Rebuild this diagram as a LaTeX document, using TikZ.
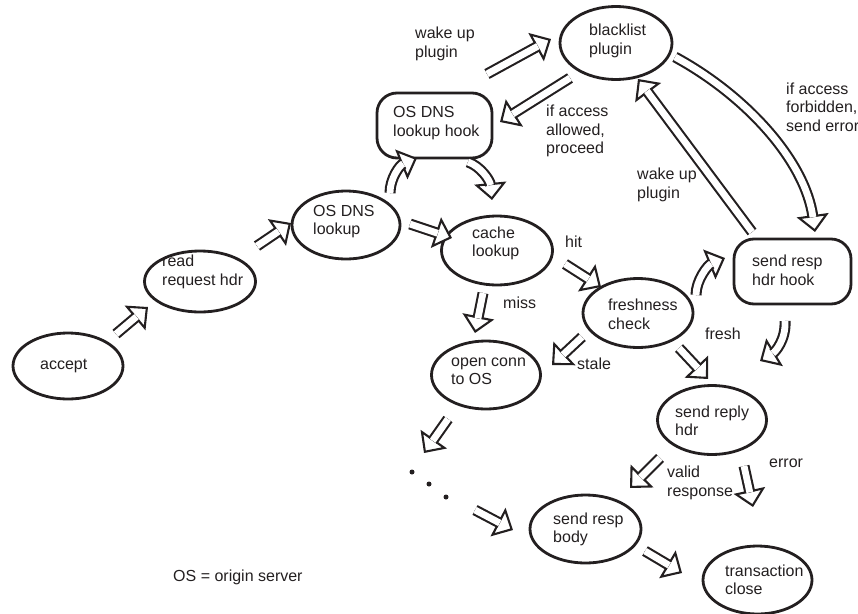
\documentclass[tikz,border=0pt]{standalone}
\usepackage{fontspec}
\setmainfont{Liberation Sans}
\usetikzlibrary{shapes.geometric,arrows.meta}
\definecolor{ink}{HTML}{231F20}
\tikzset{
  state/.style={ellipse, draw=ink, line width=2.8pt, inner sep=0pt},
  hookbox/.style={rectangle, rounded corners=20pt, draw=ink, line width=2.8pt, inner sep=0pt,
    minimum width=115pt, minimum height=65pt},
  txt/.style={align=left, inner sep=0pt, text=ink, font=\fontsize{16}{18.5}\selectfont, anchor=west},
  headtip/.style={draw=ink, line width=2.1pt, -{Triangle[length=17pt,width=32pt,fill=white]}},
  shaft/.style={draw=ink, line width=2.1pt, double, double distance=6.8pt, shorten >=15pt},
  dot/.style={circle, fill=ink, inner sep=0pt, minimum size=5pt},
}
% hollow double-shafted arrow: head first, then the shaft on top of its base
\newcommand\fatarrow[1]{\draw[headtip] #1; \draw[shaft] #1;}
\begin{document}
\begin{tikzpicture}[x=1pt,y=-1pt]
\useasboundingbox (0,0) rectangle (858,613);

% states
\node[state, minimum width=110pt, minimum height=66pt] (accept) at (68,366) {};
\node[state, minimum width=111pt, minimum height=61pt] (read) at (200,281.5) {};
\node[state, minimum width=108pt, minimum height=68pt] (lookup) at (346,225) {};
\node[state, minimum width=111pt, minimum height=69pt] (cache) at (497,250.5) {};
\node[state, minimum width=109pt, minimum height=68pt] (openconn) at (486,375) {};
\node[state, minimum width=110pt, minimum height=69pt] (fresh) at (638,313) {};
\node[state, minimum width=109pt, minimum height=69pt] (reply) at (712,420) {};
\node[state, minimum width=111pt, minimum height=68pt] (body) at (585.5,529) {};
\node[state, minimum width=109pt, minimum height=68pt] (close) at (757.5,580) {};
\node[state, minimum width=112pt, minimum height=73pt] (blacklist) at (616,43) {};
\node[hookbox] (dnshook) at (434.5,125.5) {};
\node[hookbox, minimum width=117pt] (resphook) at (792.5,271.5) {};

% state texts
\node[txt] (taccept) at (40,366) {accept};
\node[txt] (tread) at (162,272) {read\\request hdr};
\node[txt] (tlookup) at (313,221.5) {OS DNS\\lookup};
\node[txt] (tcache) at (472,243.5) {cache\\lookup};
\node[txt] (topen) at (451,371.5) {open conn\\to OS};
\node[txt] (tfresh) at (608,314.5) {freshness\\check};
\node[txt] (treply) at (675,421) {send reply\\hdr};
\node[txt] (tbody) at (553,529.5) {send resp\\body};
\node[txt] (tclose) at (725,580) {transaction\\close};
\node[txt] (tblack) at (589,41) {blacklist\\plugin};
\node[txt] (tdnshook) at (393,123) {OS DNS\\lookup hook};
\node[txt] (tresphook) at (752,270.5) {send resp\\hdr hook};

% edge labels
\node[txt] (lwake1) at (415,44) {wake up\\plugin};
\node[txt] (lallow) at (546,131) {if access\\allowed,\\proceed};
\node[txt] (lforbid) at (786,107) {if access\\forbidden,\\send error};
\node[txt] (lwake2) at (637,185) {wake up\\plugin};
\node[txt] (lhit) at (565,242) {hit};
\node[txt] (lmiss) at (503,303) {miss};
\node[txt] (lstale) at (577,364) {stale};
\node[txt] (lfresh) at (705,334) {fresh};
\node[txt] (lvalid) at (667,483) {valid\\response};
\node[txt] (lerror) at (769,463) {error};
\node[txt] (legend) at (173,577) {OS = origin server};

% the elided part of the miss path
\node[dot] (d1) at (412,472) {};
\node[dot] (d2) at (429,484) {};
\node[dot] (d3) at (446,497) {};

% arrow end points
\coordinate (a1s) at (116,334);  \coordinate (a1e) at (148,307);
\coordinate (a2s) at (257,246);  \coordinate (a2e) at (291,223);
\coordinate (a3s) at (390,193);  \coordinate (a3e) at (417,158);
\coordinate (a4s) at (468,162);  \coordinate (a4e) at (492,200);
\coordinate (a5s) at (410,224);  \coordinate (a5e) at (452,238);
\coordinate (a6s) at (487,74);   \coordinate (a6e) at (551,39);
\coordinate (a7s) at (570,78);   \coordinate (a7e) at (500,122);
\coordinate (a8s) at (565,264);  \coordinate (a8e) at (601,287);
\coordinate (a9s) at (483,293);  \coordinate (a9e) at (475,333);
\coordinate (a10s) at (582,337); \coordinate (a10e) at (552,365);
\coordinate (a11s) at (696,295); \coordinate (a11e) at (725,258);
\coordinate (a12s) at (752,232); \coordinate (a12e) at (638,79);
\coordinate (a13s) at (675,57);  \coordinate (a13e) at (815,232);
\coordinate (a14s) at (785,321); \coordinate (a14e) at (760,361);
\coordinate (a15s) at (679,348); \coordinate (a15e) at (708,379);
\coordinate (a16s) at (448,419); \coordinate (a16e) at (424,453);
\coordinate (a17s) at (475,510); \coordinate (a17e) at (513,530);
\coordinate (a18s) at (660,458); \coordinate (a18e) at (630,488);
\coordinate (a19s) at (744,466); \coordinate (a19e) at (753,507);
\coordinate (a20s) at (645,551); \coordinate (a20e) at (682,573);

% transitions
\fatarrow{(a1s) -- (a1e)}
\fatarrow{(a2s) -- (a2e)}
\fatarrow{(a3s) .. controls (390,178) and (400,165) .. (a3e)}
\fatarrow{(a4s) .. controls (480,166) and (490,180) .. (a4e)}
\fatarrow{(a5s) -- (a5e)}
\fatarrow{(a6s) -- (a6e)}
\fatarrow{(a7s) -- (a7e)}
\fatarrow{(a8s) -- (a8e)}
\fatarrow{(a9s) -- (a9e)}
\fatarrow{(a10s) -- (a10e)}
\fatarrow{(a11s) .. controls (696,280) and (708,265) .. (a11e)}
\fatarrow{(a12s) -- (a12e)}
\fatarrow{(a13s) .. controls (745,95) and (805,160) .. (a13e)}
\fatarrow{(a14s) .. controls (786,340) and (775,352) .. (a14e)}
\fatarrow{(a15s) -- (a15e)}
\fatarrow{(a16s) -- (a16e)}
\fatarrow{(a17s) -- (a17e)}
\fatarrow{(a18s) -- (a18e)}
\fatarrow{(a19s) -- (a19e)}
\fatarrow{(a20s) -- (a20e)}
\end{tikzpicture}
\end{document}
